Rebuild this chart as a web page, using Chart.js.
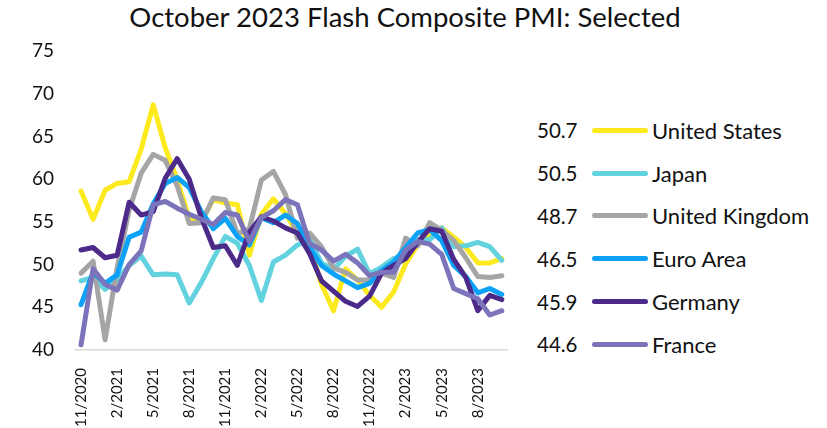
<!DOCTYPE html>
<html>
<head>
<meta charset="utf-8">
<script src="https://cdn.jsdelivr.net/npm/chart.js@4.4.0/dist/chart.umd.min.js"></script>
<style>
    body { margin: 0; background: #fff; font-family: 'Lato', sans-serif; }
    #wrap { position: relative; width: 827px; height: 428px; overflow: hidden; }
    #title { position: absolute; top: 0px; left: 0; width: 810px; text-align: center; font-size: 27.5px; color: #111; }
    #chart-box { position: absolute; left: 0; top: 0; width: 530px; height: 437px; }
    #legend { position: absolute; left: 537px; top: 109px; }
    .row { display: flex; align-items: center; height: 42.8px; font-size: 20.5px; color: #111; }
    .val { width: 55px; }
    .swatch { width: 56px; height: 5px; border-radius: 3px; margin-right: 4px; }
    .name { font-size: 22px; }
</style>
</head>
<body>
<div id="wrap">
    <div id="title">October 2023 Flash Composite PMI: Selected</div>
    <div id="chart-box"><canvas id="pmiChart"></canvas></div>
    <div id="legend"></div>
</div>
<script>
// Meses (11/2020 - 10/2023)
const months = [
    '11/2020', '12/2020', '1/2021', '2/2021', '3/2021', '4/2021', '5/2021', '6/2021', '7/2021', '8/2021', '9/2021', '10/2021',
    '11/2021', '12/2021', '1/2022', '2/2022', '3/2022', '4/2022', '5/2022', '6/2022', '7/2022', '8/2022', '9/2022', '10/2022',
    '11/2022', '12/2022', '1/2023', '2/2023', '3/2023', '4/2023', '5/2023', '6/2023', '7/2023', '8/2023', '9/2023', '10/2023'
];

const unitedStates = [58.6, 55.3, 58.7, 59.5, 59.7, 63.5, 68.7, 63.7, 59.9, 55.4, 55.0, 57.6, 57.2, 57.0, 51.1, 55.9, 57.7, 56.0, 53.6, 52.3, 47.7, 44.6, 49.5, 48.2, 46.4, 45.0, 46.8, 50.1, 52.3, 53.4, 54.3, 53.2, 52.0, 50.2, 50.2, 50.7];
const japan = [48.1, 48.5, 47.1, 48.2, 49.9, 51.0, 48.8, 48.9, 48.8, 45.5, 47.9, 50.7, 53.3, 52.5, 49.9, 45.8, 50.3, 51.1, 52.3, 53.0, 50.2, 49.4, 51.0, 51.8, 48.9, 49.7, 50.7, 51.1, 52.9, 52.9, 54.3, 52.1, 52.2, 52.6, 52.1, 50.5];
const unitedKingdom = [49.0, 50.4, 41.2, 49.6, 56.4, 60.7, 62.9, 62.2, 59.2, 54.8, 54.9, 57.8, 57.6, 53.6, 54.2, 59.9, 60.9, 58.2, 53.1, 53.7, 52.1, 49.6, 49.1, 48.2, 48.2, 49.0, 48.5, 53.1, 52.2, 54.9, 54.0, 52.8, 50.8, 48.6, 48.5, 48.7];
const euroArea = [45.3, 49.1, 47.8, 48.8, 53.2, 53.8, 57.1, 59.5, 60.2, 59.0, 56.2, 54.2, 55.4, 53.3, 52.3, 55.5, 54.9, 55.8, 54.8, 52.0, 49.9, 48.9, 48.1, 47.3, 47.8, 49.3, 50.3, 52.0, 53.7, 54.1, 52.8, 49.9, 48.6, 46.7, 47.2, 46.5];
const germany = [51.7, 52.0, 50.8, 51.1, 57.3, 55.8, 56.2, 60.1, 62.4, 60.0, 55.5, 52.0, 52.2, 49.9, 53.8, 55.6, 55.1, 54.3, 53.7, 51.3, 48.1, 46.9, 45.7, 45.1, 46.3, 49.0, 49.9, 50.7, 52.6, 54.2, 53.9, 50.6, 48.5, 44.6, 46.4, 45.9];
const france = [40.6, 49.5, 47.7, 47.0, 50.0, 51.6, 57.0, 57.4, 56.6, 55.9, 55.3, 54.7, 56.1, 55.8, 52.7, 55.5, 56.3, 57.6, 57.0, 52.5, 51.7, 50.4, 51.2, 50.2, 48.7, 49.1, 49.1, 51.7, 52.7, 52.4, 51.2, 47.2, 46.6, 46.0, 44.1, 44.6];

const seriesNames = ['United States', 'Japan', 'United Kingdom', 'Euro Area', 'Germany', 'France'];
const seriesData = [unitedStates, japan, unitedKingdom, euroArea, germany, france];
const seriesColors = ['#FCEA1E', '#62D2DF', '#A5A5A5', '#0CA2F7', '#4B2A8A', '#7C74BA'];

const yTicks = [40, 45, 50, 55, 60, 65, 70, 75];

const FONT = "'Lato', sans-serif";

// Leyenda con último valor
const legendEl = document.getElementById('legend');
legendEl.innerHTML = seriesNames.map((name, i) => `
    <div class="row">
        <span class="val">${seriesData[i][seriesData[i].length - 1].toFixed(1)}</span>
        <span class="swatch" style="background:${seriesColors[i]}"></span>
        <span class="name">${name}</span>
    </div>`).join('');

const ctx = document.getElementById('pmiChart').getContext('2d');

new Chart(ctx, {
    type: 'line',
    data: {
        labels: months,
        datasets: seriesNames.map((name, i) => ({
            label: name,
            data: seriesData[i],
            borderColor: seriesColors[i],
            backgroundColor: seriesColors[i],
            borderWidth: 5,
            pointRadius: 0,
            tension: 0,
            borderCapStyle: 'round',
            borderJoinStyle: 'round',
            order: seriesNames.length - i
        }))
    },
    options: {
        responsive: true,
        maintainAspectRatio: false,
        animation: false,
        layout: { padding: { top: 51, right: 12, left: 19, bottom: 0 } },
        plugins: {
            legend: { display: false },
            tooltip: { enabled: false },
            title: { display: false }
        },
        scales: {
            x: {
                offset: true,
                grid: { display: false },
                border: { display: true, color: '#D9D9D9', width: 1.5 },
                ticks: {
                    autoSkip: false,
                    maxRotation: 90,
                    minRotation: 90,
                    padding: 10,
                    color: '#111',
                    font: { family: FONT, size: 15 },
                    callback: (v, i) => (i % 3 === 0 ? months[i] : '')
                }
            },
            y: {
                min: yTicks[0],
                max: yTicks[yTicks.length - 1],
                grid: { display: false },
                border: { display: false },
                afterBuildTicks: axis => { axis.ticks = yTicks.map(v => ({ value: v })); },
                ticks: {
                    padding: 13,
                    color: '#111',
                    font: { family: FONT, size: 19 }
                }
            }
        }
    }
});
</script>
</body>
</html>
